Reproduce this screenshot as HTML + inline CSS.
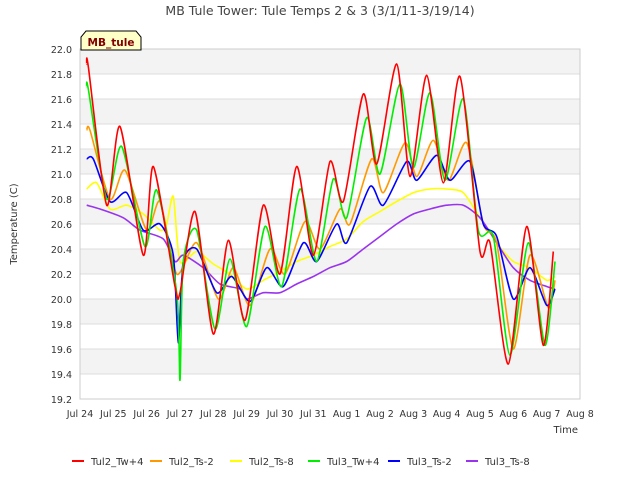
<!DOCTYPE html>
<html><head><meta charset="utf-8"><style>
body{margin:0;background:#fff;}
svg{font-family:"DejaVu Sans","Liberation Sans",sans-serif;}
</style></head><body>
<svg id="c" width="640" height="480" xmlns="http://www.w3.org/2000/svg">
<text x="320" y="15" text-anchor="middle" font-size="12.5" fill="#444">MB Tule Tower: Tule Temps 2 &amp; 3 (3/1/11-3/19/14)</text>
<text transform="translate(17,224) rotate(-90)" text-anchor="middle" font-size="10" fill="#333">Temperature (C)</text>
<text x="578" y="433" text-anchor="end" font-size="10" fill="#333">Time</text>
<g id="grid"></g><g id="series"></g>
<g>
<path d="M81,50 L81,37 L86,31 L136,31 L141,37 L141,50 Z" fill="#ffffc8" stroke="#000" stroke-width="1"/>
<text x="111" y="46" text-anchor="middle" font-size="10.5" font-weight="bold" fill="#800000">MB_tule</text>
</g>
<g id="legend"></g>
</svg>
<script>
const yTicks=[19.2,19.4,19.6,19.8,20.0,20.2,20.4,20.6,20.8,21.0,21.2,21.4,21.6,21.8,22.0];
const xTickLabels=["Jul 24","Jul 25","Jul 26","Jul 27","Jul 28","Jul 29","Jul 30","Jul 31","Aug 1","Aug 2","Aug 3","Aug 4","Aug 5","Aug 6","Aug 7","Aug 8"];
const seriesNames=["Tul2_Tw+4","Tul2_Ts-2","Tul2_Ts-8","Tul3_Tw+4","Tul3_Ts-2","Tul3_Ts-8"];
const seriesColors=["#ff0000","#ff9900","#ffff00","#00ee00","#0000ff","#9933ee"];
const t_tw4_2=[0.2,0.25,0.8,1.2,1.9,2.2,2.85,3.0,3.45,4.0,4.45,4.95,5.5,6.0,6.5,7.0,7.5,7.9,8.5,8.9,9.5,9.9,10.4,10.9,11.4,12.0,12.3,12.85,13.4,13.9,14.2];
const v_tw4_2=[21.88,21.86,20.75,21.38,20.35,21.06,20.1,20.05,20.7,19.72,20.47,19.83,20.75,20.2,21.06,20.35,21.1,20.78,21.64,21.08,21.88,20.98,21.79,20.93,21.78,20.38,20.45,19.48,20.58,19.63,20.38];
const t_ts2_2=[0.2,0.3,0.9,1.35,2.0,2.4,2.9,3.5,4.15,4.6,5.1,5.7,6.15,6.75,7.2,7.8,8.1,8.75,9.1,9.75,10.1,10.6,11.05,11.6,12.1,12.5,13.0,13.5,14.05,14.25];
const v_ts2_2=[21.35,21.35,20.8,21.03,20.55,20.78,20.2,20.45,20.0,20.25,19.95,20.4,20.2,20.62,20.4,20.72,20.6,21.12,20.85,21.25,20.98,21.27,20.95,21.25,20.6,20.45,19.6,20.35,19.93,20.15];
const t_ts8_2=[0.2,0.5,0.9,1.4,1.9,2.4,2.6,2.8,3.0,3.5,4.0,4.5,5.0,5.5,6.0,6.5,7.0,7.5,8.0,8.5,9.0,9.5,10.0,10.5,11.0,11.5,12.0,12.5,13.0,13.5,14.0,14.25];
const v_ts8_2=[20.88,20.93,20.72,20.75,20.68,20.55,20.6,20.82,20.3,20.38,20.28,20.2,20.08,20.15,20.22,20.3,20.35,20.42,20.48,20.62,20.7,20.78,20.85,20.88,20.88,20.85,20.65,20.45,20.3,20.25,20.15,20.18];
const t_tw4_3=[0.2,0.25,0.8,1.25,1.95,2.3,2.9,3.0,3.1,3.5,4.05,4.5,5.0,5.55,6.05,6.6,7.1,7.6,8.0,8.6,9.0,9.6,10.0,10.5,10.95,11.5,11.95,12.4,12.9,13.45,13.95,14.25];
const v_tw4_3=[21.7,21.68,20.8,21.22,20.42,20.87,20.05,19.35,20.3,20.55,19.76,20.32,19.78,20.58,20.1,20.88,20.3,20.96,20.65,21.45,21.0,21.72,21.05,21.65,20.95,21.6,20.55,20.5,19.55,20.45,19.63,20.3];
const t_ts2_3=[0.2,0.4,0.9,1.4,1.9,2.4,2.8,2.95,3.1,3.5,4.1,4.55,5.1,5.6,6.1,6.7,7.1,7.7,8.0,8.7,9.1,9.8,10.1,10.7,11.1,11.7,12.1,12.5,13.0,13.5,14.0,14.25];
const v_ts2_3=[21.12,21.12,20.78,20.85,20.55,20.6,20.35,19.65,20.3,20.4,20.05,20.18,19.98,20.25,20.1,20.45,20.3,20.6,20.45,20.9,20.75,21.1,20.95,21.15,20.95,21.1,20.6,20.5,20.0,20.25,19.95,20.08];
const t_ts8_3=[0.2,0.6,1.3,1.8,2.5,2.85,3.1,3.7,4.2,4.8,5.0,5.5,6.0,6.5,7.0,7.5,8.0,8.5,9.0,9.5,10.0,10.5,11.0,11.5,12.0,12.5,13.0,13.5,14.0,14.25];
const v_ts8_3=[20.75,20.72,20.65,20.55,20.48,20.3,20.35,20.25,20.12,20.08,20.0,20.05,20.05,20.12,20.18,20.25,20.3,20.4,20.5,20.6,20.68,20.72,20.75,20.75,20.65,20.45,20.25,20.15,20.1,20.08];
const X0=80,X1=580,Y0=399,Y1=49;
const xs=d=>X0+(X1-X0)*d/15;
const ys=v=>Y0-(v-19.2)/(22.0-19.2)*(Y0-Y1);
const NS="http://www.w3.org/2000/svg";
function mk(tag,attrs,parent){const e=document.createElementNS(NS,tag);for(const k in attrs)e.setAttribute(k,attrs[k]);parent.appendChild(e);return e;}
const grid=document.getElementById('grid');
for(let i=0;i<yTicks.length-1;i++){
  if((yTicks.length-2-i)%2===0){
    const r=mk('rect',{x:X0,y:ys(yTicks[i+1]),width:X1-X0,height:ys(yTicks[i])-ys(yTicks[i+1]),fill:'#f3f3f3'},grid);
    
    
  }
}
yTicks.forEach(v=>{
  const l=mk('line',{x1:X0,x2:X1,y1:ys(v),y2:ys(v),stroke:'#dddddd','stroke-width':1},grid);
  
  
  const t=mk('text',{x:X0-8,y:ys(v)+4,'text-anchor':'end','font-size':'9.5',fill:'#333'},grid);
  t.textContent=v.toFixed(1);
  
  
});
const fr=mk('rect',{x:X0,y:Y1,width:X1-X0,height:Y0-Y1,fill:'none',stroke:'#cccccc'},grid);


xTickLabels.forEach((s,i)=>{
  const t=mk('text',{x:xs(i),y:417,'text-anchor':'middle','font-size':'9.5',fill:'#333'},grid);
  t.textContent=s;
  
  
});
function pathFor(ts,vs){
  const p=ts.map((t,i)=>[xs(t),ys(vs[i])]);
  let d='M'+p[0][0].toFixed(1)+','+p[0][1].toFixed(1);
  for(let i=0;i<p.length-1;i++){
    const a=p[Math.max(0,i-1)],b=p[i],c=p[i+1],e=p[Math.min(p.length-1,i+2)];
    const c1=[b[0]+(c[0]-a[0])/8,b[1]+(c[1]-a[1])/8],c2=[c[0]-(e[0]-b[0])/8,c[1]-(e[1]-b[1])/8];
    d+=' C'+c1.map(n=>n.toFixed(1))+' '+c2.map(n=>n.toFixed(1))+' '+c[0].toFixed(1)+','+c[1].toFixed(1);
  }
  return d;
}
const data=[[t_tw4_2,v_tw4_2],[t_ts2_2,v_ts2_2],[t_ts8_2,v_ts8_2],[t_tw4_3,v_tw4_3],[t_ts2_3,v_ts2_3],[t_ts8_3,v_ts8_3]];
const order=[2,5,1,4,3,0];
const sg=document.getElementById('series');
order.forEach(i=>{
  const p=mk('path',{d:pathFor(data[i][0],data[i][1]),fill:'none',stroke:seriesColors[i],'stroke-width':1.6},sg);
  
  
});
const lg=document.getElementById('legend');
const lx=[72,150,230,308,388,466];
seriesNames.forEach((n,i)=>{
  const g=mk('g',{},lg);
  
  
  mk('line',{x1:lx[i],x2:lx[i]+12,y1:461,y2:461,stroke:seriesColors[i],'stroke-width':2},g);
  const t=mk('text',{x:lx[i]+19,y:465,'font-size':'10','fill':'#333'},g);
  t.textContent=n;
});
</script>
</body></html>
